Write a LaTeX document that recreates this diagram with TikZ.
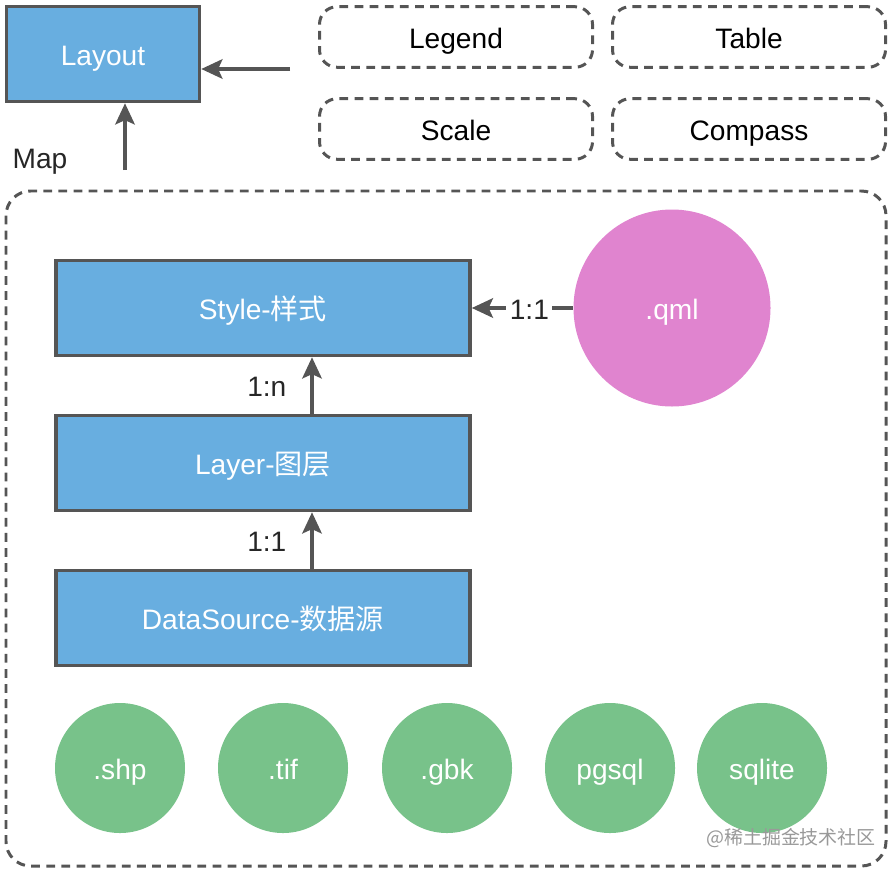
\documentclass[tikz,border=0pt]{standalone}
\usepackage{fontspec}
\setmainfont{Liberation Sans}
\newfontfamily\cjk{Noto Sans CJK SC}
\usetikzlibrary{arrows.meta}

\definecolor{boxblue}{HTML}{68AEE0}
\definecolor{edgegray}{HTML}{555555}
\definecolor{qmlpink}{HTML}{E084CF}
\definecolor{srcgreen}{HTML}{78C28A}

\tikzstyle{label} = [font=\fontsize{8}{10}\selectfont, text=black!85, text height=1.6ex, text depth=0.4ex]
\tikzstyle{bluebox} = [draw=edgegray, line width=1pt, fill=boxblue, text=white, font=\fontsize{8}{10}\selectfont, text height=1.6ex, text depth=0.4ex]
\tikzstyle{dashbox} = [draw=edgegray, line width=0.85pt, dash pattern=on 2.5pt off 1.8pt, rounded corners=5pt, font=\fontsize{8}{10}\selectfont, text height=1.6ex, text depth=0.4ex]
\tikzstyle{blob} = [circle, inner sep=0pt, text=white, font=\fontsize{8}{10}\selectfont, text height=1.6ex, text depth=0.4ex]
\tikzstyle{arrowdecorate} = [-{Stealth[length=6pt, width=5.5pt, inset=1.2pt]}, draw=edgegray, line width=1.1pt]

\begin{document}
\begin{tikzpicture}
    \useasboundingbox (0,0) rectangle (8.96,-8.72);
    %% map frame
    \draw[dashbox, rounded corners=7pt] (0.06,-1.91) rectangle (8.86,-8.66);
    %% layout and its parts
    \node[bluebox, minimum width=1.93cm, minimum height=0.95cm] (layout) at (1.03,-0.54) {Layout};
    \foreach \nodename/\text/\x/\y in {
      legend/Legend/4.56/-0.37,
      table/Table/7.49/-0.37,
      scale/Scale/4.56/-1.29,
      compass/Compass/7.49/-1.29}
    {
      \node[dashbox, minimum width=2.73cm, minimum height=0.60cm] (\nodename) at (\x,\y) {\text};
    }
    \node[label] (map) at (0.40,-1.57) {Map};
    \coordinate (mapin) at (1.25,-1.70);
    \coordinate (partsin) at (2.90,-0.69);
    \draw[arrowdecorate] (mapin) -- (mapin |- layout.south);
    \draw[arrowdecorate] (partsin) -- (partsin -| layout.east);
    %% layers
    \foreach \nodename/\text/\y in {
      style/{Style-{\cjk 样式}}/-3.08,
      layer/{Layer-{\cjk 图层}}/-4.63,
      datasource/{DataSource-{\cjk 数据源}}/-6.18}
    {
      \node[bluebox, minimum width=4.14cm, minimum height=0.95cm] (\nodename) at (2.63,\y) {\text};
    }
    \node[blob, fill=qmlpink, minimum size=1.97cm] (qml) at (6.72,-3.08) {.qml};
    %% data sources
    \foreach \nodename/\text/\x in {
      shp/.shp/1.20, tif/.tif/2.83, gbk/.gbk/4.47, pgsql/pgsql/6.10, sqlite/sqlite/7.62}
    {
      \node[blob, fill=srcgreen, minimum size=1.30cm] (\nodename) at (\x,-7.68) {\text};
    }
    %edges
    \path
    \foreach \startnode/\endnode/\weight in {
      layer/style/1:n, datasource/layer/1:1}
    {
      ([xshift=0.49cm]\startnode.north) edge[arrowdecorate] node[label, left=0.12cm] {\weight} ([xshift=0.49cm]\endnode.south)
    };
    \path (qml.west) edge[arrowdecorate] node[label, fill=white, inner sep=1pt, pos=0.43] {1:1} (style.east);
    \node[font=\cjk\fontsize{5.4}{6}\selectfont, text=black!40, inner sep=0pt] (mark) at (7.91,-8.38) {@稀土掘金技术社区};
\end{tikzpicture}
\end{document}
